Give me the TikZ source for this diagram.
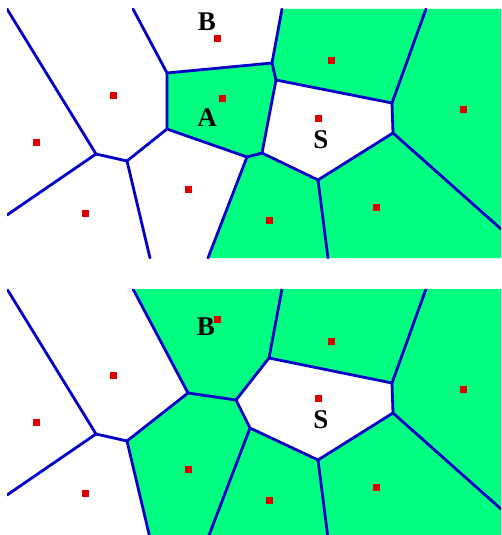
\documentclass[tikz,border=0pt]{standalone}
\usepackage{fontspec}
\setmainfont{Liberation Serif}
\definecolor{vgreen}{RGB}{0,255,128}
\definecolor{vblue}{RGB}{0,0,200}
\definecolor{vred}{RGB}{224,0,0}
\tikzset{
  edge/.style={vblue, line width=2.8pt, line join=round, line cap=round},
  seed/.style={fill=vred, minimum size=7pt, inner sep=0pt, draw=none, rectangle},
  lbl/.style={font=\bfseries\fontsize{27}{27}\selectfont, inner sep=0pt, anchor=base},
  cell/.style={fill=vgreen, draw=none}
}
\begin{document}
\begin{tikzpicture}[x=1pt,y=-1pt]
\useasboundingbox (0,0) rectangle (501,535);
% ---------------- top panel ----------------
\begin{scope}
\clip (7,9) rectangle (501,258);
\coordinate (tT1) at (7,9);
\coordinate (tT2) at (133,9);
\coordinate (tT3) at (282,9);
\coordinate (tT4) at (426,9);
\coordinate (tTR) at (501,9);
\coordinate (tR1) at (501,229);
\coordinate (tBR) at (501,258);
\coordinate (tL1) at (7,215);
\coordinate (tBL) at (7,258);
\coordinate (tB2) at (150,258);
\coordinate (tB3) at (208,258);
\coordinate (tB4) at (328,258);
\coordinate (tV1) at (167,73);
\coordinate (tV2) at (272,63);
\coordinate (tV3) at (276,80);
\coordinate (tV4) at (392,103);
\coordinate (tV5) at (262,153);
\coordinate (tV6) at (393,133);
\coordinate (tV7) at (318,180);
\coordinate (tV8) at (167,129);
\coordinate (tV9) at (247,157);
\coordinate (tV10) at (127,161);
\coordinate (tV11) at (96,154);
\fill[white] (tT1) rectangle (tBR);
\fill[cell] (tV1) -- (tV2) -- (tV3) -- (tV5) -- (tV9) -- (tV8) -- cycle;
\fill[cell] (tT3) -- (tT4) -- (tV4) -- (tV3) -- (tV2) -- cycle;
\fill[cell] (tT4) -- (tTR) -- (tR1) -- (tV6) -- (tV4) -- cycle;
\fill[cell] (tV9) -- (tV5) -- (tV7) -- (tB4) -- (tB3) -- cycle;
\fill[cell] (tV7) -- (tV6) -- (tR1) -- (tBR) -- (tB4) -- cycle;
\draw[edge] (tT1) -- (tV11) -- (tL1);
\draw[edge] (tV11) -- (tV10) -- (tB2);
\draw[edge] (tV10) -- (tV8) -- (tV1) -- (tT2);
\draw[edge] (tV1) -- (tV2) -- (tT3);
\draw[edge] (tV2) -- (tV3) -- (tV4) -- (tT4);
\draw[edge] (tV4) -- (tV6) -- (tR1);
\draw[edge] (tV6) -- (tV7) -- (tB4);
\draw[edge] (tV7) -- (tV5) -- (tV3);
\draw[edge] (tV5) -- (tV9) -- (tB3);
\draw[edge] (tV9) -- (tV8);
\end{scope}
\node[seed] (tsB) at (217,39) {};
\node[seed] (tsA) at (222,98) {};
\node[seed] (ts1) at (113,95) {};
\node[seed] (ts2) at (36,142) {};
\node[seed] (ts3) at (85,213) {};
\node[seed] (ts4) at (188,189) {};
\node[seed] (ts5) at (331,61) {};
\node[seed] (tsS) at (318,118) {};
\node[seed] (ts6) at (463,109) {};
\node[seed] (ts7) at (269,220) {};
\node[seed] (ts8) at (376,207) {};
\node[lbl] (tlB) at (207,31) {B};
\node[lbl] (tlA) at (207,126) {A};
\node[lbl] (tlS) at (321,148) {S};
% ---------------- bottom panel ----------------
\begin{scope}
\clip (7,289) rectangle (501,535);
\coordinate (bT1) at (7,289);
\coordinate (bT2) at (133,289);
\coordinate (bT3) at (282,289);
\coordinate (bT4) at (426,289);
\coordinate (bTR) at (501,289);
\coordinate (bR1) at (501,509);
\coordinate (bBR) at (501,538);
\coordinate (bL1) at (7,495);
\coordinate (bBL) at (7,538);
\coordinate (bB2) at (150,538);
\coordinate (bB3) at (208,538);
\coordinate (bB4) at (328,538);
\coordinate (bV1) at (188,393);
\coordinate (bV2) at (236,400);
\coordinate (bV3) at (269,358);
\coordinate (bV4) at (392,383);
\coordinate (bV5) at (250,428);
\coordinate (bV6) at (393,413);
\coordinate (bV7) at (318,460);
\coordinate (bV10) at (127,441);
\coordinate (bV11) at (96,434);
\fill[white] (bT1) rectangle (bBR);
\fill[cell] (bV10) -- (bV1) -- (bV2) -- (bV5) -- (bB3) -- (bB2) -- cycle;
\fill[cell] (bT2) -- (bT3) -- (bV3) -- (bV2) -- (bV1) -- cycle;
\fill[cell] (bT3) -- (bT4) -- (bV4) -- (bV3) -- cycle;
\fill[cell] (bT4) -- (bTR) -- (bR1) -- (bV6) -- (bV4) -- cycle;
\fill[cell] (bV5) -- (bV7) -- (bB4) -- (bB3) -- cycle;
\fill[cell] (bV7) -- (bV6) -- (bR1) -- (bBR) -- (bB4) -- cycle;
\draw[edge] (bT1) -- (bV11) -- (bL1);
\draw[edge] (bV11) -- (bV10) -- (bB2);
\draw[edge] (bV10) -- (bV1) -- (bT2);
\draw[edge] (bV1) -- (bV2) -- (bV3) -- (bT3);
\draw[edge] (bV3) -- (bV4) -- (bT4);
\draw[edge] (bV4) -- (bV6) -- (bR1);
\draw[edge] (bV6) -- (bV7) -- (bB4);
\draw[edge] (bV7) -- (bV5) -- (bV2);
\draw[edge] (bV5) -- (bB3);
\end{scope}
\node[seed] (bsB) at (217,319) {};
\node[seed] (bs1) at (113,375) {};
\node[seed] (bs2) at (36,422) {};
\node[seed] (bs3) at (85,493) {};
\node[seed] (bs4) at (188,469) {};
\node[seed] (bs5) at (331,341) {};
\node[seed] (bsS) at (318,398) {};
\node[seed] (bs6) at (463,389) {};
\node[seed] (bs7) at (269,500) {};
\node[seed] (bs8) at (376,487) {};
\node[lbl] (blB) at (206,335) {B};
\node[lbl] (blS) at (321,428) {S};
\end{tikzpicture}
\end{document}
